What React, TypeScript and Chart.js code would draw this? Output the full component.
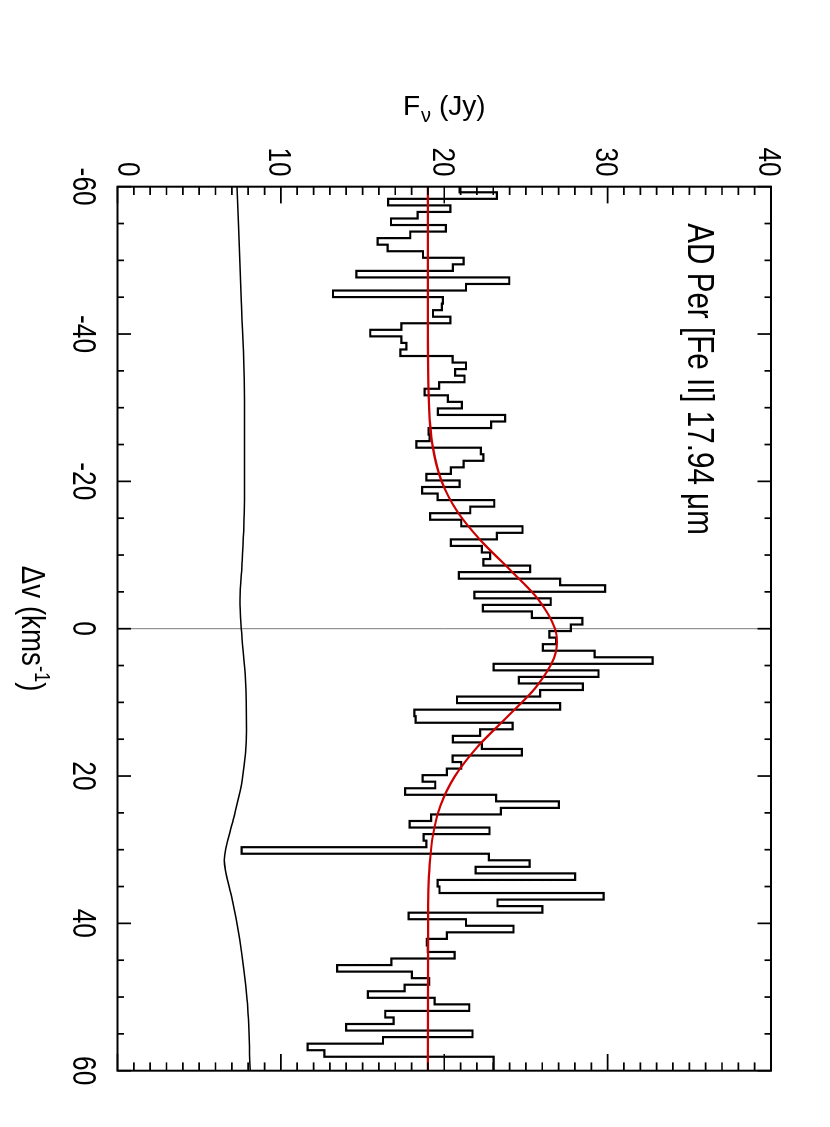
import React, { useEffect, useRef } from 'react';
import { Chart, registerables } from 'chart.js';

Chart.register(...registerables);

// ---- data ----
// histogram bins: left edge of first bin and bin width (km/s)
const BIN_START = -60.13;
const BIN_WIDTH = 0.889;
// observed flux density per bin (Jy)
const FLUX = [
  21.0, 20.94, 23.22, 16.56, 20.37, 18.37, 16.74, 20.10, 17.92, 15.92,
  16.53, 18.70, 21.18, 20.53, 14.62, 23.98, 21.33, 13.19, 19.92, 19.86,
  19.31, 20.37, 17.37, 15.47, 17.37, 17.68, 17.31, 20.51, 21.33, 20.67,
  21.24, 19.69, 18.80, 20.22, 21.08, 19.61, 23.73, 22.87, 19.04, 19.10,
  18.29, 22.24, 22.40, 21.18, 20.41, 18.90, 20.94, 18.65, 19.59, 23.06,
  21.59, 19.14, 21.04, 24.79, 23.22, 20.41, 22.30, 22.81, 22.40, 25.26,
  20.90, 27.09, 29.85, 21.84, 26.52, 22.36, 25.36, 28.46, 27.75, 26.44,
  26.85, 26.04, 29.20, 32.76, 23.02, 29.44, 24.57, 28.48, 25.87, 20.78,
  27.09, 18.17, 18.25, 24.18, 22.20, 20.53, 22.30, 24.75, 20.51, 21.04,
  20.16, 18.68, 19.45, 17.61, 23.18, 27.01, 23.47, 19.20, 17.88, 22.77,
  18.74, 18.90, 7.60, 22.73, 25.22, 21.92, 28.01, 19.59, 19.71, 29.75,
  23.26, 26.01, 17.82, 21.33, 24.24, 20.16, 18.94, 19.00, 20.63, 16.76,
  13.44, 18.02, 19.08, 17.57, 15.33, 19.41, 21.53, 16.39, 16.90, 14.00,
  21.73, 16.25, 11.64, 12.66, 23.02,
];

// gaussian fit curve, sampled (km/s, Jy)
const FIT_V = [-60, -40, -30, -25, -20, -16, -12, -8, -4, 0, 1.8, 4, 8, 12, 16, 20, 24, 28, 32, 40, 60];
const FIT_F = [19.0, 19.0, 19.07, 19.27, 19.84, 20.77, 22.22, 24.02, 25.74, 26.78, 26.9, 26.72, 25.59, 23.84, 22.05, 20.66, 19.77, 19.31, 19.11, 19.01, 19.0];

// lower reference curve (km/s, Jy)
const REF_V = [-60, -44.6, -31.0, -17.5, -9.3, -3.9, 0, 7.0, 13.8, 20.5, 25.9, 31.4, 36.8, 42.2, 50.3, 60];
const REF_F = [7.32, 7.58, 7.77, 7.77, 7.63, 7.50, 7.58, 7.83, 7.89, 7.63, 7.09, 6.54, 7.03, 7.48, 7.93, 8.13];

// axes
const X_MIN = -60, X_MAX = 60;
const Y_MIN = 0, Y_MAX = 40;
const X_TICKS = [-60, -40, -20, 0, 20, 40, 60];
const Y_TICKS = [0, 10, 20, 30, 40];
const X_MINOR_STEP = 5;
const Y_MINOR_STEP = 1;

const TITLE = 'AD Per [Fe II] 17.94 μm';

const FONT = '"Liberation Sans", Arial, Helvetica, sans-serif';

// landscape canvas, rotated 90° clockwise onto the page
const CW = 1127;
const CH = 830;

function drawText(ctx: CanvasRenderingContext2D, s: string, u: number, v: number, size: number, sx: number, align: CanvasTextAlign, rot = 0) {
  ctx.save();
  ctx.translate(u, v);
  if (rot) ctx.rotate(rot);
  ctx.scale(sx, 1);
  ctx.font = `${size}px ${FONT}`;
  ctx.textAlign = align;
  ctx.textBaseline = 'alphabetic';
  ctx.fillStyle = '#000';
  ctx.fillText(s, 0, 0);
  ctx.restore();
}

const framePlugin = {
  id: 'idlFrame',
  afterDatasetsDraw(chart: any) {
    const { ctx, chartArea: a, scales } = chart;
    const xs = scales.x;
    const ys = scales.y;
    ctx.save();
    ctx.strokeStyle = '#000';
    ctx.lineCap = 'butt';
    // ticks
    ctx.lineWidth = 1.7;
    ctx.beginPath();
    for (let v = X_MIN; v <= X_MAX + 1e-9; v += X_MINOR_STEP) {
      const p = xs.getPixelForValue(v);
      const major = X_TICKS.includes(v);
      const len = major ? 13.5 : 6.5;
      ctx.moveTo(p, a.bottom); ctx.lineTo(p, a.bottom - len);
      ctx.moveTo(p, a.top); ctx.lineTo(p, a.top + len);
    }
    for (let f = Y_MIN; f <= Y_MAX + 1e-9; f += Y_MINOR_STEP) {
      const p = ys.getPixelForValue(f);
      const major = Y_TICKS.includes(f);
      const len = major ? 16.7 : 8.3;
      ctx.moveTo(a.left, p); ctx.lineTo(a.left + len, p);
      ctx.moveTo(a.right, p); ctx.lineTo(a.right - len, p);
    }
    ctx.stroke();
    // frame
    ctx.lineWidth = 2;
    ctx.strokeRect(a.left, a.top, a.right - a.left, a.bottom - a.top);

    // x tick labels (Δv)
    X_TICKS.forEach((t) => {
      const u = xs.getPixelForValue(t);
      drawText(ctx, String(t), u, a.bottom + 44, 33, 0.8, 'center');
    });
    // y tick labels (Fν)
    Y_TICKS.forEach((t, i) => {
      let v = ys.getPixelForValue(t);
      if (i === 0) v -= 12.5;
      drawText(ctx, String(t), a.left - 10, v + 11.5, 32, 0.82, 'right');
    });

    // y title: Fν (Jy)
    ctx.save();
    ctx.translate(115, 427);
    ctx.rotate(-Math.PI / 2);
    ctx.fillStyle = '#000';
    ctx.textBaseline = 'alphabetic';
    ctx.textAlign = 'left';
    ctx.font = `28px ${FONT}`;
    ctx.fillText('F', 0, 0);
    let w = ctx.measureText('F').width;
    ctx.font = `20px ${FONT}`;
    ctx.fillText('ν', w + 1, 7);
    w += ctx.measureText('ν').width + 1;
    ctx.font = `28px ${FONT}`;
    ctx.fillText(' (Jy)', w, 0);
    ctx.restore();

    // x title: Δv (kms-1)
    ctx.save();
    const sx = 0.84;
    ctx.font = `33px ${FONT}`;
    const p1 = 'Δv (kms';
    const p3 = ')';
    const w1 = ctx.measureText(p1).width;
    const w3 = ctx.measureText(p3).width;
    ctx.font = `22px ${FONT}`;
    const w2 = ctx.measureText('-1').width;
    const total = (w1 + w2 + w3) * sx;
    const u0 = (a.left + a.right) / 2 - total / 2;
    const vb = 808;
    ctx.restore();
    drawText(ctx, p1, u0, vb, 33, sx, 'left');
    drawText(ctx, '-1', u0 + w1 * sx, vb - 13, 22, sx, 'left');
    drawText(ctx, p3, u0 + (w1 + w2) * sx, vb, 33, sx, 'left');

    // annotation
    drawText(ctx, TITLE, 223.3, 141.7, 37, 0.8, 'left');

    ctx.restore();
  },
};

export default function App() {
  const canvasRef = useRef<HTMLCanvasElement | null>(null);

  useEffect(() => {
    const canvas = canvasRef.current;
    if (!canvas) return;

    const hist = FLUX.map((f, i) => ({ x: BIN_START + i * BIN_WIDTH, y: f }));
    hist.push({ x: X_MAX, y: FLUX[FLUX.length - 1] });
    const fit = FIT_V.map((v, i) => ({ x: v, y: FIT_F[i] }));
    const ref = REF_V.map((v, i) => ({ x: v, y: REF_F[i] }));
    const zero = [{ x: 0, y: Y_MIN }, { x: 0, y: Y_MAX }];

    const chart = new Chart(canvas, {
      type: 'line',
      data: {
        datasets: [
          { data: fit, borderColor: '#cc0000', borderWidth: 2.2, cubicInterpolationMode: 'monotone', pointRadius: 0, fill: false },
          { data: hist, stepped: 'after', borderColor: '#000', borderWidth: 2.2, pointRadius: 0, fill: false, borderJoinStyle: 'miter' },
          { data: ref, borderColor: '#000', borderWidth: 1.5, cubicInterpolationMode: 'monotone', pointRadius: 0, fill: false },
          { data: zero, borderColor: '#7a7a7a', borderWidth: 1, pointRadius: 0, fill: false },
        ] as any,
      },
      options: {
        animation: false,
        responsive: false,
        maintainAspectRatio: false,
        devicePixelRatio: 1,
        events: [],
        layout: { padding: { left: 186.7, right: CW - 1070.7, top: 59, bottom: CH - 712.5 } },
        plugins: { legend: { display: false }, tooltip: { enabled: false }, title: { display: false } },
        scales: {
          x: { type: 'linear', min: X_MIN, max: X_MAX, display: false },
          y: { type: 'linear', min: Y_MIN, max: Y_MAX, display: false },
        },
      },
      plugins: [framePlugin],
    } as any);

    return () => chart.destroy();
  }, []);

  return (
    <div style={{ position: 'fixed', left: 0, top: 0, width: 830, height: 1127, overflow: 'hidden', background: '#fff' }}>
      <canvas
        ref={canvasRef}
        width={CW}
        height={CH}
        style={{
          position: 'absolute',
          left: 0,
          top: 0,
          width: CW,
          height: CH,
          transformOrigin: '0 0',
          transform: 'translate(830px, 0px) rotate(90deg)',
        }}
      />
    </div>
  );
}
